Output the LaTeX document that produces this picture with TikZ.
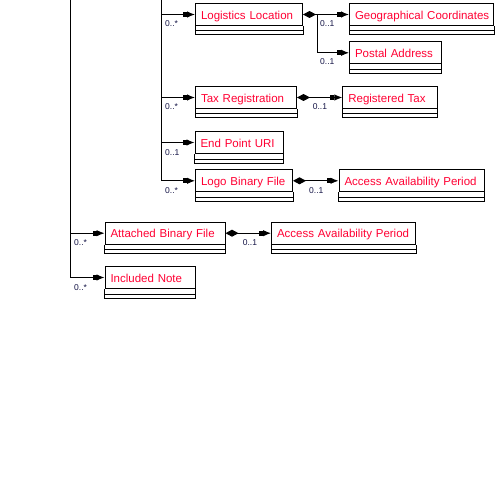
\documentclass[tikz,border=0pt]{standalone}
\usepackage{fontspec}
\setmainfont{Liberation Sans}
\usetikzlibrary{arrows.meta,calc}
\definecolor{txtred}{RGB}{255,0,51}
\definecolor{lblcol}{RGB}{20,20,70}
\tikzset{
  cls/.style={draw=black, line width=1pt, anchor=north west, minimum height=22pt,
    inner sep=0pt, text height=10.5pt, text depth=1pt, text=txtred,
    font=\fontsize{11.5}{12}\selectfont, align=left, text width=#1-11pt, minimum width=#1,
    inner xsep=5.5pt},
  link/.style={line width=1pt, -{Square[length=4pt,width=5pt]Latex[length=8pt,width=6.5pt]}},
  comp/.style={line width=1pt, {Diamond[length=13pt,width=7pt]}-{Square[length=4pt,width=5pt]Latex[length=8pt,width=6.5pt]}},
  mult/.style={anchor=base west, inner sep=0pt, text=lblcol, font=\fontsize{8.5}{9}\selectfont},
}
\newcommand{\compart}[1]{%
  \draw[line width=1pt] (#1.south west) -- ++(0,-9pt) -| (#1.south east);
  \draw[line width=1pt] ([yshift=-5pt]#1.south west) -- ([yshift=-5pt]#1.south east);}
\begin{document}
\begin{tikzpicture}[x=1pt,y=-1pt]
\useasboundingbox (0,0) rectangle (500,500);
\fill[white] (0,0) rectangle (500,500);
% classes
\node[cls=107pt] (LL) at (195,3) {\mbox{Logistics Location}};
\node[cls=144pt] (GC) at (349,3) {\mbox{Geographical Coordinates}};
\node[cls=91.5pt] (PA) at (349,41.3) {\mbox{Postal Address}};
\node[cls=101pt] (TR) at (195,86) {\mbox{Tax Registration}};
\node[cls=94.5pt] (RT) at (342.3,86) {\mbox{Registered Tax}};
\node[cls=88pt] (EP) at (194.5,131) {\mbox{End Point URI}};
\node[cls=97pt] (LB) at (195,169.3) {\mbox{Logo Binary File}};
\node[cls=145pt] (AP1) at (338.5,169.3) {\mbox{Access Availability Period}};
\node[cls=120pt] (AB) at (104.5,221.7) {\mbox{Attached Binary File}};
\node[cls=144pt] (AP2) at (271,221.7) {\mbox{Access Availability Period}};
\node[cls=90pt] (IN) at (104.5,266) {\mbox{Included Note}};
\foreach \n in {LL,GC,PA,TR,RT,EP,LB,AP1,AB,AP2,IN} {\compart{\n}}
% trunks
\coordinate (T1) at (161.7,0);
\coordinate (T0) at (70,0);
\draw[link] (T1) |- (LL.west);
\draw[link] (T1) |- (TR.west);
\draw[link] (T1) |- (EP.west);
\draw[link] (T1) |- (LB.west);
\draw[link] (T0) |- (AB.west);
\draw[link] (T0) |- (IN.west);
% compositions
\draw[comp] (LL.east) -- (GC.west);
\coordinate (LLb) at ($(LL.east)+(14.3,0)$);
\draw[link] (LLb) |- (PA.west);
\draw[comp] (TR.east) -- (RT.west);
\draw[comp] (LB.east) -- (AP1.west);
\draw[comp] (AB.east) -- (AP2.west);
% multiplicities
\node[mult] (m1) at (165,27) {0..*};
\node[mult] (m2) at (165,110) {0..*};
\node[mult] (m3) at (165,155) {0..1};
\node[mult] (m4) at (165,193) {0..*};
\node[mult] (m5) at (74,245.5) {0..*};
\node[mult] (m6) at (74,290) {0..*};
\node[mult] (m7) at (320,27) {0..1};
\node[mult] (m8) at (320,65) {0..1};
\node[mult] (m9) at (312.7,110) {0..1};
\node[mult] (m10) at (309,193) {0..1};
\node[mult] (m11) at (242.7,245.5) {0..1};
\end{tikzpicture}
\end{document}
